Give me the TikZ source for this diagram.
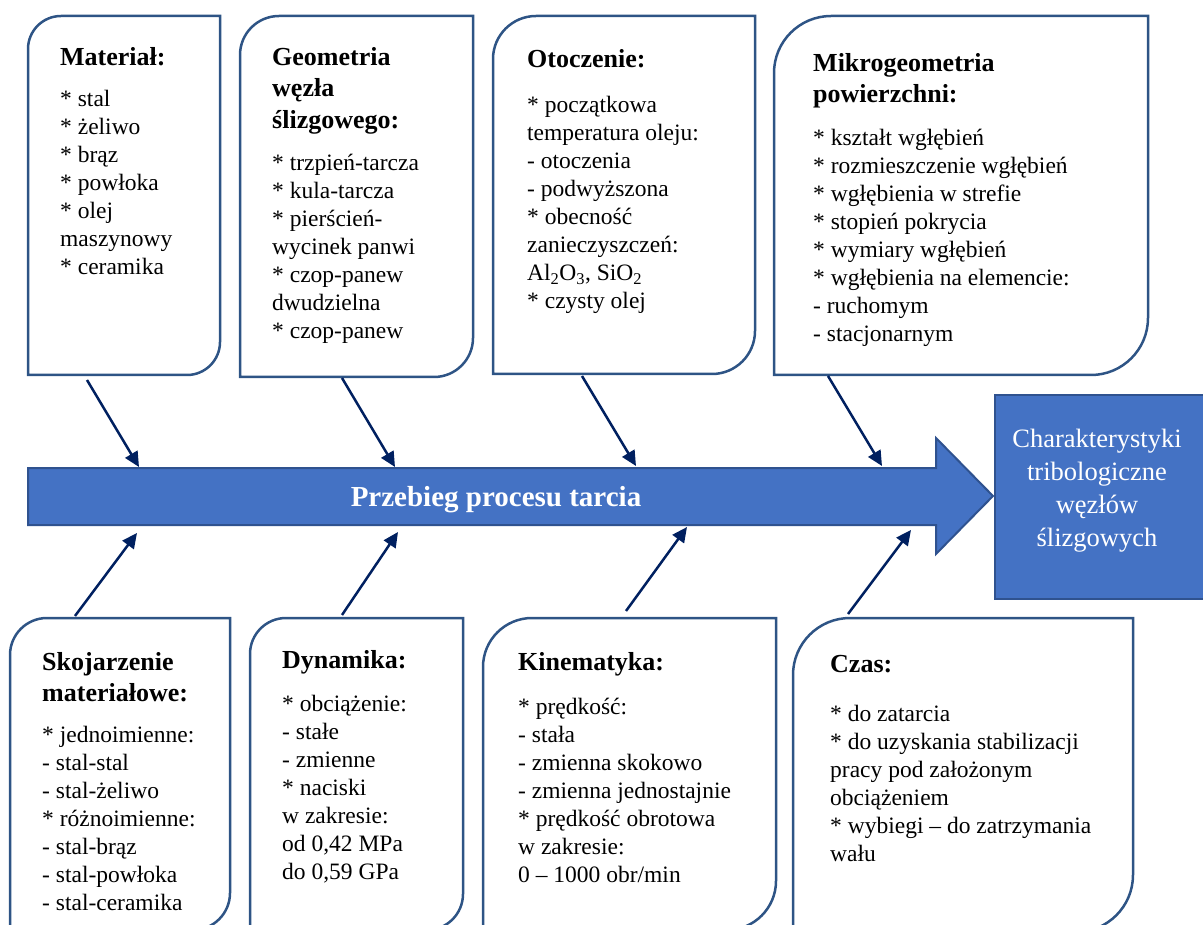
\documentclass[tikz,border=0pt]{standalone}
\usepackage{fontspec}
\setmainfont{Liberation Serif}
\usetikzlibrary{arrows.meta}

\definecolor{boxblue}{RGB}{46,84,133}
\definecolor{fillblue}{RGB}{68,114,196}
\definecolor{edgeblue}{RGB}{47,82,143}
\definecolor{navy}{RGB}{0,32,96}

% box with round top-left and bottom-right corners: x1 y1 x2 y2 r
\newcommand{\cornerbox}[5]{%
  \draw[boxline] (#1,#2+#5) .. controls (#1,#2+0.448*#5) and (#1+0.448*#5,#2) .. (#1+#5,#2)
    -- (#3,#2) -- (#3,#4-#5) .. controls (#3,#4-0.448*#5) and (#3-0.448*#5,#4) .. (#3-#5,#4)
    -- (#1,#4) -- cycle;}

\begin{document}
\begin{tikzpicture}[x=1pt,y=-1pt]
\tikzset{every node/.style={inner sep=0pt, anchor=north west, align=left},
  boxtitle/.style={font=\fontsize{26}{31.5}\selectfont\bfseries},
  boxtext/.style={font=\fontsize{23.5}{28}\selectfont},
  boxline/.style={boxblue, line width=2.5pt},
  conn/.style={navy, line width=2.5pt, -{Triangle[length=15pt,width=14pt]}}}

\useasboundingbox (0,0) rectangle (1203,925);

% Main arrow and result
\draw[fill=fillblue, draw=edgeblue, line width=2pt] (28,468) -- (936,468) -- (936,438)
  -- (993,496) -- (936,554) -- (936,525) -- (28,525) -- cycle;
\node[anchor=center, white, font=\fontsize{29}{34}\selectfont\bfseries] (proc) at (496,500) {Przebieg procesu tarcia};
\draw[fill=fillblue, draw=edgeblue, line width=2pt] (995,395) rectangle (1210,599);
\node[anchor=center, align=center, white, font=\fontsize{26.5}{33}\selectfont] (res) at (1097,491)
  {Charakterystyki\\tribologiczne\\węzłów\\ślizgowych};

% Boxes above the arrow
\cornerbox{28}{16}{220}{375}{33}
\cornerbox{240}{16}{473}{377}{39}
\cornerbox{493}{16}{755}{374}{43}
\cornerbox{774}{16}{1148}{375}{57}

\node[boxtitle] (mat-t) at (60,47) {Materiał:};
\node[boxtext] (mat-b) at (60,90) {* stal\\* żeliwo\\* brąz\\* powłoka\\* olej\\maszynowy\\* ceramika};

\node[boxtitle] (geo-t) at (272,47) {Geometria\\węzła\\ślizgowego:};
\node[boxtext] (geo-b) at (272,154) {* trzpień-tarcza\\* kula-tarcza\\* pierścień-\\wycinek panwi\\* czop-panew\\dwudzielna\\* czop-panew};

\node[boxtitle] (oto-t) at (527,49) {Otoczenie:};
\node[boxtext] (oto-b) at (527,96) {* początkowa\\temperatura oleju:\\- otoczenia\\- podwyższona\\* obecność\\zanieczyszczeń:\\Al\textsubscript{2}O\textsubscript{3}, SiO\textsubscript{2}\\* czysty olej};

\node[boxtitle] (mik-t) at (813,53) {Mikrogeometria\\powierzchni:};
\node[boxtext] (mik-b) at (813,129) {* kształt wgłębień\\* rozmieszczenie wgłębień\\* wgłębienia w strefie\\* stopień pokrycia\\* wymiary wgłębień\\* wgłębienia na elemencie:\\- ruchomym\\- stacjonarnym};

% Boxes below the arrow
\cornerbox{10}{618}{230}{930}{37}
\cornerbox{250}{618}{463}{930}{36}
\cornerbox{483}{618}{776}{930}{49}
\cornerbox{793}{618}{1133}{932}{57}

\node[boxtitle] (skj-t) at (42,652) {Skojarzenie\\materiałowe:};
\node[boxtext] (skj-b) at (42,726) {* jednoimienne:\\- stal-stal\\- stal-żeliwo\\* różnoimienne:\\- stal-brąz\\- stal-powłoka\\- stal-ceramika};

\node[boxtitle] (dyn-t) at (282,650) {Dynamika:};
\node[boxtext] (dyn-b) at (282,695) {* obciążenie:\\- stałe\\- zmienne\\* naciski\\w zakresie:\\od 0,42 MPa\\do 0,59 GPa};

\node[boxtitle] (kin-t) at (518,652) {Kinematyka:};
\node[boxtext] (kin-b) at (518,698) {* prędkość:\\- stała\\- zmienna skokowo\\- zmienna jednostajnie\\* prędkość obrotowa\\w zakresie:\\0 – 1000 obr/min};

\node[boxtitle] (czas-t) at (830,655) {Czas:};
\node[boxtext] (czas-b) at (830,705) {* do zatarcia\\* do uzyskania stabilizacji\\pracy pod założonym\\obciążeniem\\* wybiegi – do zatrzymania\\wału};

% Connector ends
\coordinate (mat-out) at (87,380);   \coordinate (mat-in) at (139,467);
\coordinate (geo-out) at (342,378);  \coordinate (geo-in) at (395,467);
\coordinate (oto-out) at (582,376);  \coordinate (oto-in) at (636,466);
\coordinate (mik-out) at (828,376);  \coordinate (mik-in) at (882,466);
\coordinate (skj-out) at (75,616);   \coordinate (skj-in) at (137,533);
\coordinate (dyn-out) at (342,615);  \coordinate (dyn-in) at (398,532);
\coordinate (kin-out) at (626,611);  \coordinate (kin-in) at (687,527);
\coordinate (czas-out) at (848,614); \coordinate (czas-in) at (911,530);

% Connectors
\draw[conn] (mat-out) -- (mat-in);
\draw[conn] (geo-out) -- (geo-in);
\draw[conn] (oto-out) -- (oto-in);
\draw[conn] (mik-out) -- (mik-in);
\draw[conn] (skj-out) -- (skj-in);
\draw[conn] (dyn-out) -- (dyn-in);
\draw[conn] (kin-out) -- (kin-in);
\draw[conn] (czas-out) -- (czas-in);
\end{tikzpicture}
\end{document}
